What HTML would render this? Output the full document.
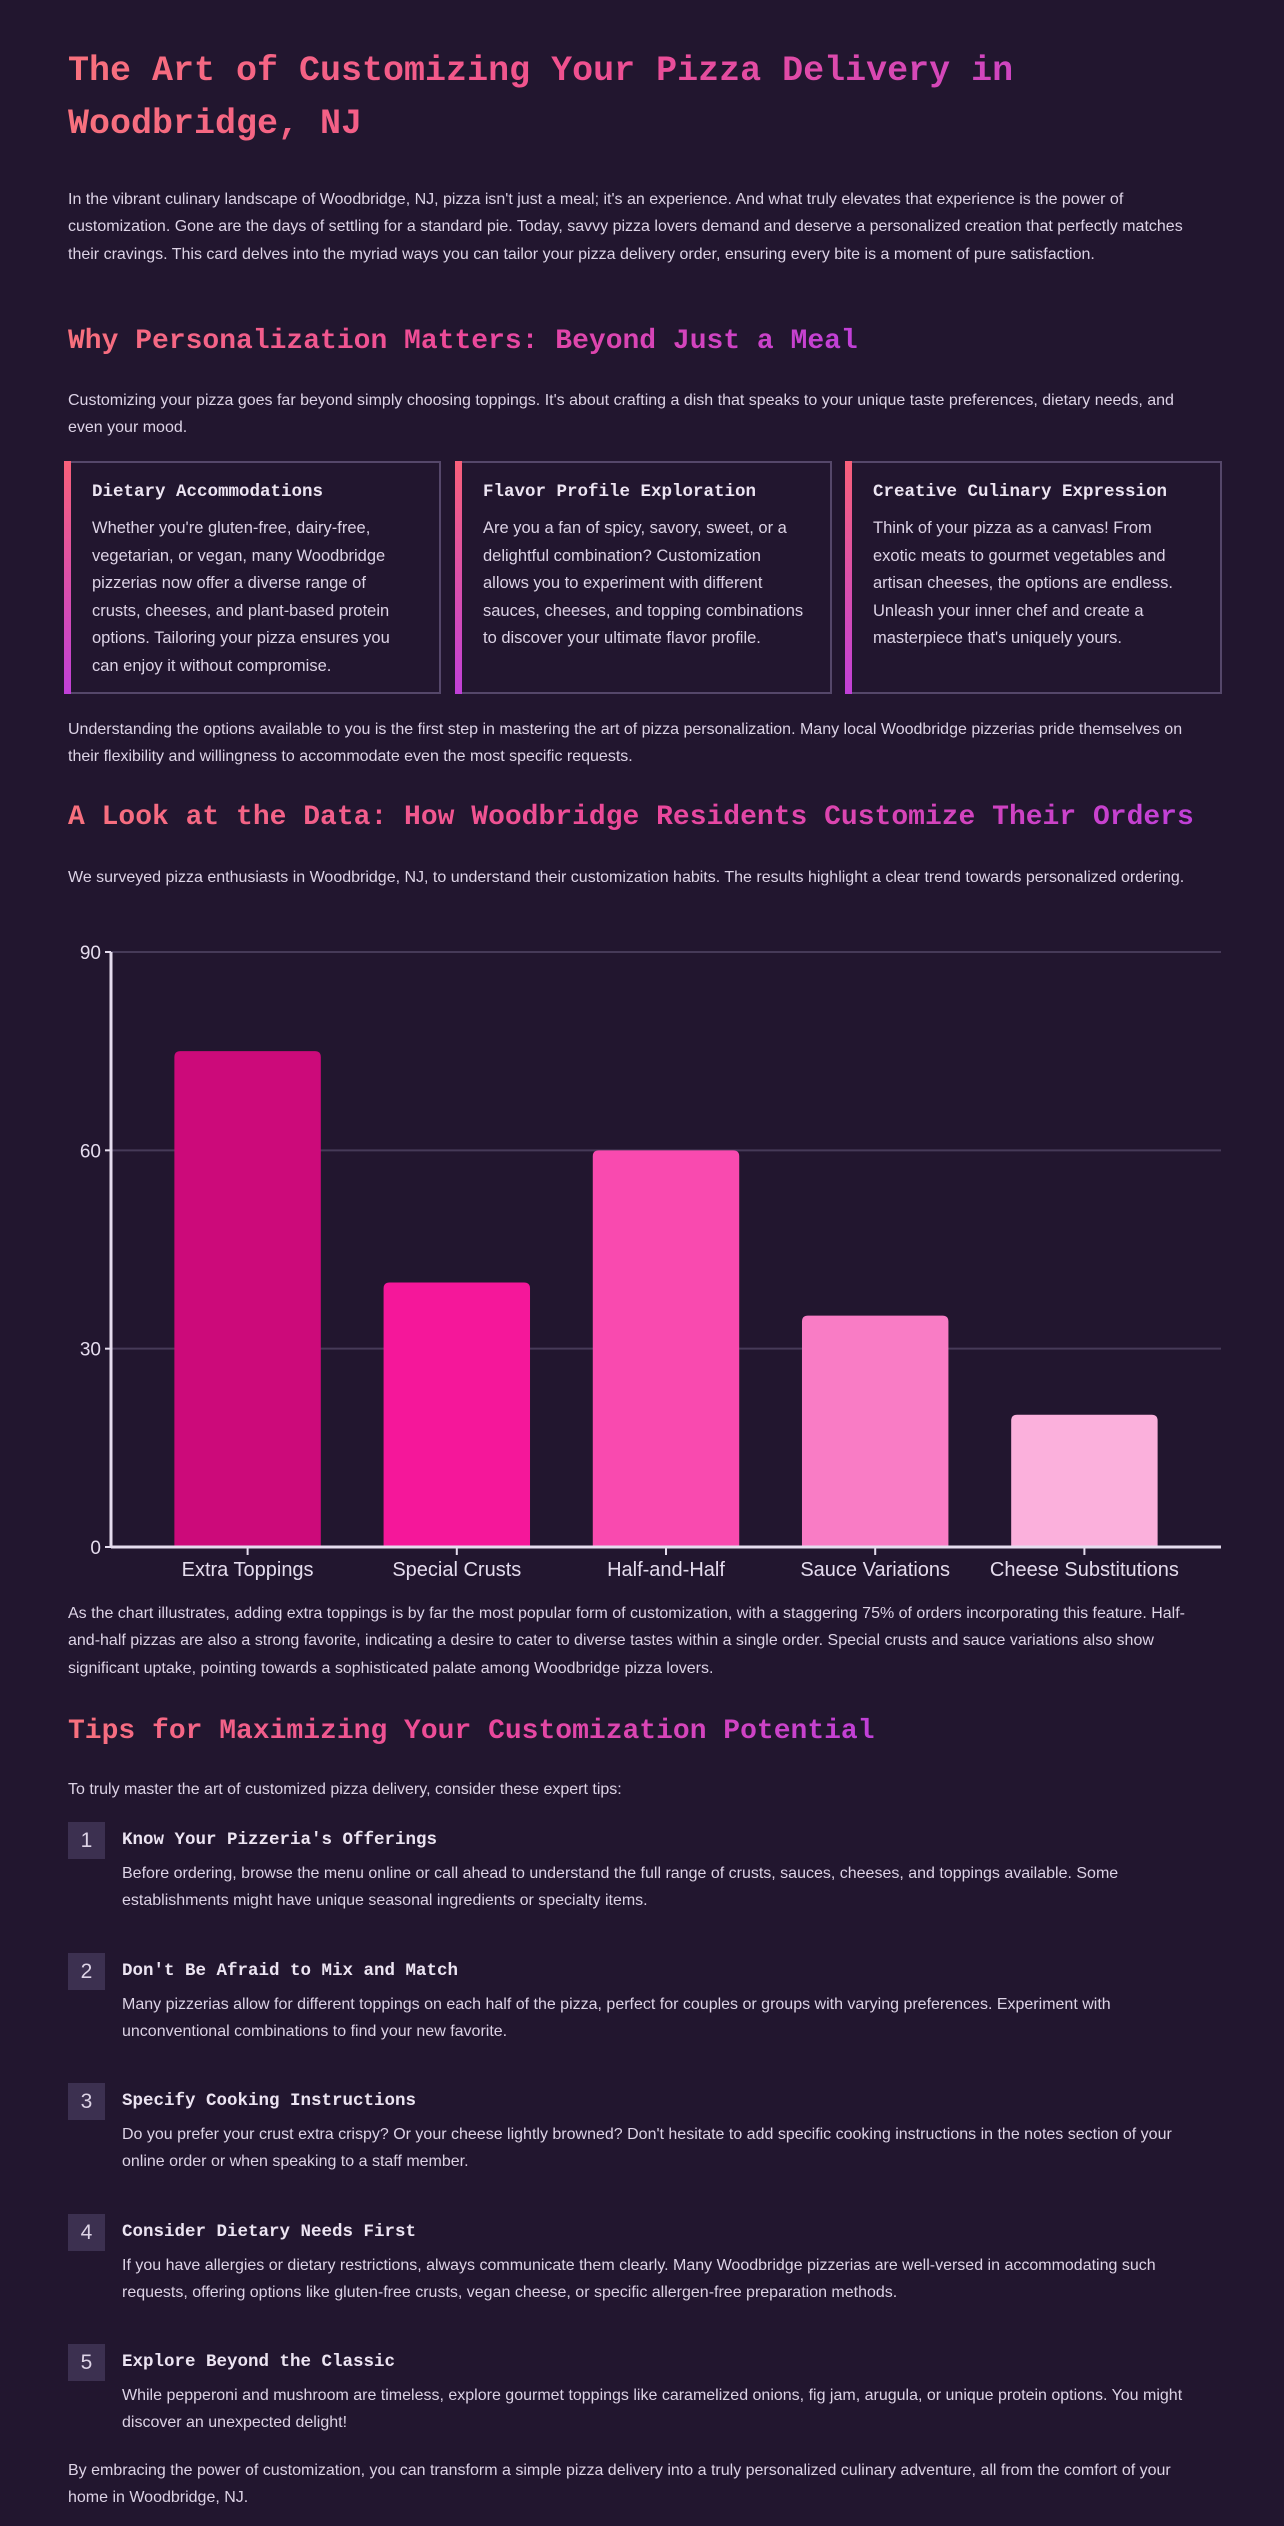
<!DOCTYPE html>
<html><head><meta charset="utf-8">
<style>
html,body{margin:0;padding:0;}
body{width:1284px;height:2526px;background:#22162f;position:relative;overflow:hidden;font-family:"Liberation Sans",sans-serif;color:#ddd3e6;}
.abs{position:absolute;left:68px;width:1140px;}
h1,h2,h3{margin:0;font-family:"Liberation Mono",monospace;font-weight:bold;}
h1{font-size:35px;line-height:53px;background:linear-gradient(90deg,#f8717d,#f0508f 45%,#c040d8);-webkit-background-clip:text;background-clip:text;color:transparent;}
h2{font-size:28px;line-height:40px;background:linear-gradient(90deg,#f8717d,#ec4899 50%,#c040d8);-webkit-background-clip:text;background-clip:text;color:transparent;display:inline-block;}
p{margin:0;font-size:16px;line-height:27.4px;}
.card{position:absolute;top:461px;height:233px;border:2px solid #55476a;border-left:none;box-sizing:border-box;padding:16px 24px 0 28px;}
.card::before{content:"";position:absolute;left:0;top:-2px;bottom:-2px;width:7px;background:linear-gradient(#f8607a,#c040d8);}
.card h3{font-size:17.5px;line-height:26px;color:#ece4f2;margin-bottom:10px;}
.card p{font-size:16.5px;line-height:27.5px;}
.tip{position:absolute;left:68px;width:1153px;height:120px;}
.num{position:absolute;left:0;top:0;width:37px;height:37px;background:#3c3050;color:#ddd3e6;font-size:21px;line-height:37px;text-align:center;font-family:"Liberation Sans",sans-serif;}
.tip h3{position:absolute;left:54px;top:5px;font-size:17.5px;line-height:26px;color:#ece4f2;}
.tip p{position:absolute;left:54px;top:38px;width:1090px;}
</style></head><body>
<h1 class="abs" style="top:45px">The Art of Customizing Your Pizza Delivery in Woodbridge, NJ</h1>
<p class="abs" style="top:186px">In the vibrant culinary landscape of Woodbridge, NJ, pizza isn't just a meal; it's an experience. And what truly elevates that experience is the power of customization. Gone are the days of settling for a standard pie. Today, savvy pizza lovers demand and deserve a personalized creation that perfectly matches their cravings. This card delves into the myriad ways you can tailor your pizza delivery order, ensuring every bite is a moment of pure satisfaction.</p>
<div class="abs" style="top:322px"><h2>Why Personalization Matters: Beyond Just a Meal</h2></div>
<p class="abs" style="top:387px">Customizing your pizza goes far beyond simply choosing toppings. It's about crafting a dish that speaks to your unique taste preferences, dietary needs, and even your mood.</p>
<div class="card" style="left:64px;width:377px"><h3>Dietary Accommodations</h3><p>Whether you're gluten-free, dairy-free, vegetarian, or vegan, many Woodbridge pizzerias now offer a diverse range of crusts, cheeses, and plant-based protein options. Tailoring your pizza ensures you can enjoy it without compromise.</p></div>
<div class="card" style="left:455px;width:377px"><h3>Flavor Profile Exploration</h3><p>Are you a fan of spicy, savory, sweet, or a delightful combination? Customization allows you to experiment with different sauces, cheeses, and topping combinations to discover your ultimate flavor profile.</p></div>
<div class="card" style="left:845px;width:377px"><h3>Creative Culinary Expression</h3><p>Think of your pizza as a canvas! From exotic meats to gourmet vegetables and artisan cheeses, the options are endless. Unleash your inner chef and create a masterpiece that's uniquely yours.</p></div>
<p class="abs" style="top:716px">Understanding the options available to you is the first step in mastering the art of pizza personalization. Many local Woodbridge pizzerias pride themselves on their flexibility and willingness to accommodate even the most specific requests.</p>
<div class="abs" style="top:798px"><h2>A Look at the Data: How Woodbridge Residents Customize Their Orders</h2></div>
<p class="abs" style="top:864px">We surveyed pizza enthusiasts in Woodbridge, NJ, to understand their customization habits. The results highlight a clear trend towards personalized ordering.</p>
<svg id="chart" style="position:absolute;left:0;top:0" width="1284" height="2526"></svg>
<p class="abs" style="top:1600px">As the chart illustrates, adding extra toppings is by far the most popular form of customization, with a staggering 75% of orders incorporating this feature. Half-and-half pizzas are also a strong favorite, indicating a desire to cater to diverse tastes within a single order. Special crusts and sauce variations also show significant uptake, pointing towards a sophisticated palate among Woodbridge pizza lovers.</p>
<div class="abs" style="top:1712px"><h2>Tips for Maximizing Your Customization Potential</h2></div>
<p class="abs" style="top:1776px">To truly master the art of customized pizza delivery, consider these expert tips:</p>
<div class="tip" style="top:1822px"><div class="num">1</div><h3>Know Your Pizzeria's Offerings</h3><p>Before ordering, browse the menu online or call ahead to understand the full range of crusts, sauces, cheeses, and toppings available. Some establishments might have unique seasonal ingredients or specialty items.</p></div>
<div class="tip" style="top:1953px"><div class="num">2</div><h3>Don't Be Afraid to Mix and Match</h3><p>Many pizzerias allow for different toppings on each half of the pizza, perfect for couples or groups with varying preferences. Experiment with unconventional combinations to find your new favorite.</p></div>
<div class="tip" style="top:2083px"><div class="num">3</div><h3>Specify Cooking Instructions</h3><p>Do you prefer your crust extra crispy? Or your cheese lightly browned? Don't hesitate to add specific cooking instructions in the notes section of your online order or when speaking to a staff member.</p></div>
<div class="tip" style="top:2214px"><div class="num">4</div><h3>Consider Dietary Needs First</h3><p>If you have allergies or dietary restrictions, always communicate them clearly. Many Woodbridge pizzerias are well-versed in accommodating such requests, offering options like gluten-free crusts, vegan cheese, or specific allergen-free preparation methods.</p></div>
<div class="tip" style="top:2344px"><div class="num">5</div><h3>Explore Beyond the Classic</h3><p>While pepperoni and mushroom are timeless, explore gourmet toppings like caramelized onions, fig jam, arugula, or unique protein options. You might discover an unexpected delight!</p></div>
<p class="abs" style="top:2457px">By embracing the power of customization, you can transform a simple pizza delivery into a truly personalized culinary adventure, all from the comfort of your home in Woodbridge, NJ.</p>
<script>
const categories = ["Extra Toppings","Special Crusts","Half-and-Half","Sauce Variations","Cheese Substitutions"];
const values = [75, 40, 60, 35, 20];
const barColors = ["#cc0a7a","#f5179a","#f94aaf","#f97cc5","#fbb0dc"];
const yTicks = [0, 30, 60, 90];
const NS="http://www.w3.org/2000/svg";
const svg=document.getElementById('chart');
const x0=111,x1=1221,bx0=143,bx1=1189,yTop=952,yBot=1547,yMax=90;
function yScale(v){return yBot-(v/yMax)*(yBot-yTop);}
const band=(bx1-bx0)/categories.length;
function xCenter(i){return bx0+band*(i+0.5);}
function mk(tag,attrs){const e=document.createElementNS(NS,tag);for(const k in attrs)e.setAttribute(k,attrs[k]);svg.appendChild(e);return e;}
yTicks.forEach(t=>{
  const y=yScale(t);
  if(t>0){const g=mk('line',{x1:x0,x2:x1,y1:y,y2:y,stroke:'#463a58','stroke-width':2});
  
  }
  const tk=mk('line',{x1:x0-6,x2:x0,y1:y,y2:y,stroke:'#e5dcee','stroke-width':2});
  
  
  const tx=mk('text',{x:x0-10,y:y+7,'text-anchor':'end','font-size':19,fill:'#e5dcee','font-family':'Liberation Sans, sans-serif'});
  tx.textContent=t;
  
  
});
const bw=band*0.7;
values.forEach((v,i)=>{
  const cx=xCenter(i),y=yScale(v);
  const r=mk('path',{d:`M${cx-bw/2},${yBot} V${y+6} Q${cx-bw/2},${y} ${cx-bw/2+6},${y} H${cx+bw/2-6} Q${cx+bw/2},${y} ${cx+bw/2},${y+6} V${yBot} Z`,fill:barColors[i]});
  
  
  const tk=mk('line',{x1:cx,x2:cx,y1:yBot,y2:yBot+8,stroke:'#e5dcee','stroke-width':2});
  
  
  const tx=mk('text',{x:cx,y:yBot+29,'text-anchor':'middle','font-size':20,fill:'#e5dcee','font-family':'Liberation Sans, sans-serif'});
  tx.textContent=categories[i];
  
  
});
const ya=mk('line',{x1:x0,x2:x0,y1:yTop,y2:yBot,stroke:'#e5dcee','stroke-width':3});


const xa=mk('line',{x1:x0,x2:x1,y1:yBot,y2:yBot,stroke:'#e5dcee','stroke-width':3});


</script>
</body></html>
